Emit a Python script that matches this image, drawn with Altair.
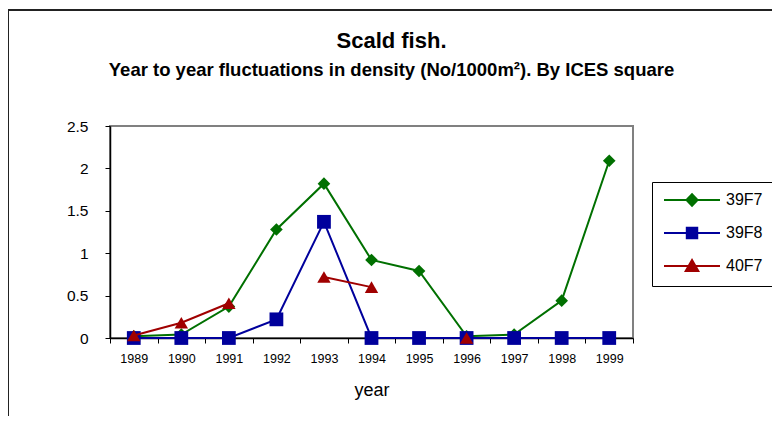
import altair as alt
import pandas as pd

years = [1989, 1990, 1991, 1992, 1993, 1994, 1995, 1996, 1997, 1998, 1999]
series_names = ["39F7", "39F8", "40F7"]
v_39F7 = [0.02, 0.04, 0.37, 1.28, 1.82, 0.92, 0.79, 0.02, 0.04, 0.44, 2.09]
v_39F8 = [0.0, 0.0, 0.0, 0.22, 1.37, 0.0, 0.0, 0.0, 0.0, 0.0, 0.0]
v_40F7 = [0.03, 0.18, 0.41, None, 0.72, 0.60, None, 0.0, None, None, None]
y_ticks = [0, 0.5, 1, 1.5, 2, 2.5]

colors = ["#007000", "#00009C", "#A00000"]
shapes = ["diamond", "square", "triangle-up"]
sizes = [160, 190, 180]
# legend symbols: a line with the marker on it (units of sqrt(size)/2)
legend_paths = [
    "M-1,0H8.33M2.75,0L3.67,-0.95L4.59,0L3.67,0.95Z",
    "M-1,0H8.33M2.8,-0.88H4.54V0.88H2.8Z",
    "M-1,0H8.33M3.67,-1.0L4.72,0.85L2.62,0.85Z",
]

rows = []
for name, vals in zip(series_names, [v_39F7, v_39F8, v_40F7]):
    seg = 0
    for yr, v in zip(years, vals):
        if v is None:
            seg += 1
            continue
        rows.append({"year": yr, "value": v, "series": name, "seg": f"{name}-{seg}"})
df = pd.DataFrame(rows)

FONT = "Liberation Sans"

x_enc = alt.X(
    "year:O",
    scale=alt.Scale(type="band", paddingInner=0, paddingOuter=0),
    bandPosition=0.5,
    axis=alt.Axis(title="year", tickBand="extent", labelAngle=0),
)
y_enc = alt.Y(
    "value:Q",
    scale=alt.Scale(domain=[0, 2.5], nice=False, zero=True),
    axis=alt.Axis(title=None, values=y_ticks, format="~g"),
)

layers = []
for name, c, sh, sz in zip(series_names, colors, shapes, sizes):
    sub = alt.Chart(df).transform_filter(alt.datum.series == name)
    layers.append(
        sub.mark_line(color=c, strokeWidth=2).encode(x=x_enc, y=y_enc, detail="seg:N")
    )
    layers.append(
        sub.mark_point(filled=True, shape=sh, size=sz, color=c, opacity=1).encode(
            x=x_enc, y=y_enc
        )
    )

leg = alt.Legend(title=None, labelExpr="datum.label + '\u00a0\u00a0'")
leg_df = pd.DataFrame({"series": series_names})
legend_layer = (
    alt.Chart(leg_df)
    .transform_filter("false")
    .mark_point(filled=True, opacity=1, strokeWidth=2)
    .encode(
        fill=alt.Fill("series:N", scale=alt.Scale(domain=series_names, range=colors), legend=leg),
        stroke=alt.Stroke("series:N", scale=alt.Scale(domain=series_names, range=colors), legend=leg),
        shape=alt.Shape("series:N", scale=alt.Scale(domain=series_names, range=legend_paths), legend=leg),
    )
)

frame_src = pd.DataFrame({"k": [0]})
frame_left = alt.Chart(frame_src).mark_rule(color="#222222", strokeWidth=2).encode(
    x=alt.value(-102), y=alt.value(-116), y2=alt.value(300)
)
frame_top = alt.Chart(frame_src).mark_rule(color="#222222", strokeWidth=2).encode(
    x=alt.value(-103), x2=alt.value(680), y=alt.value(-116)
)

chart = (
    alt.layer(frame_left, frame_top, *layers, legend_layer)
    .properties(
        width=523,
        height=212,
        autosize=alt.AutoSizeParams(type="none"),
        padding={"left": 102, "top": 118, "right": 139, "bottom": 78},
        title=alt.TitleParams(
            text="Scald fish.",
            subtitle="Year to year fluctuations in density (No/1000m\u00b2). By ICES square",
            anchor="middle",
            frame="group",
            dx=20,
            offset=-71,
            font=FONT,
            fontSize=22,
            fontWeight="bold",
            color="black",
            subtitleFont=FONT,
            subtitleFontSize=18.5,
            subtitleFontWeight="bold",
            subtitleColor="black",
            subtitlePadding=8,
        ),
    )
    .configure_view(stroke="#808080", strokeWidth=2)
    .configure_axis(
        domainColor="black",
        domainWidth=1.5,
        tickColor="black",
        tickWidth=1,
        tickSize=5,
        grid=False,
        labelFont=FONT,
        labelColor="black",
        titleFont=FONT,
        titleColor="black",
    )
    .configure_axisX(
        labelFontSize=12.5,
        labelPadding=9,
        titleFontSize=18,
        titleFontWeight="normal",
        titlePadding=17,
    )
    .configure_axisY(labelFontSize=15.5, labelPadding=17)
    .configure_legend(
        orient="none",
        legendX=542,
        legendY=56,
        strokeColor="black",
        fillColor="white",
        padding=10,
        symbolSize=144,
        symbolStrokeWidth=2,
        labelFont=FONT,
        labelFontSize=16,
        labelColor="black",
        labelOffset=48,
        rowPadding=13,
    )
)

chart.save("out.html", embed_options={"renderer": "svg", "actions": False})
